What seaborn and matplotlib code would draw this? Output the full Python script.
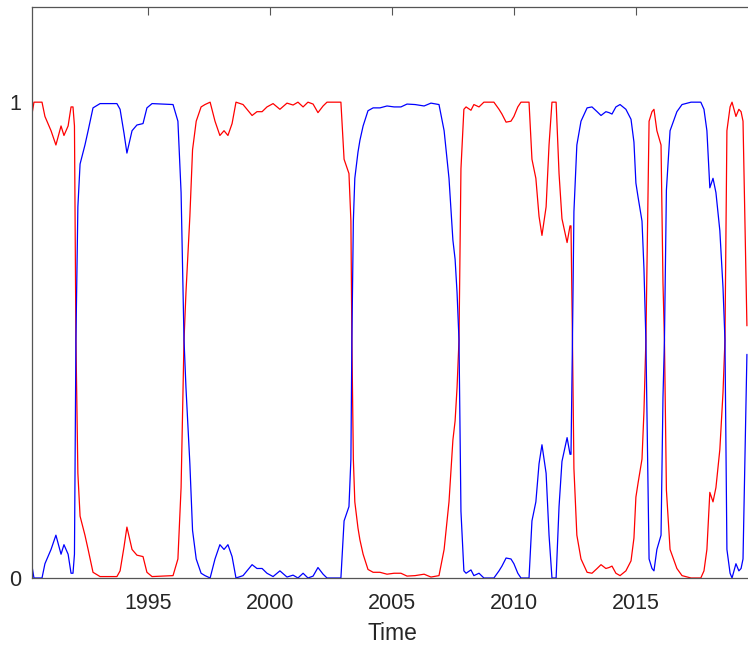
import matplotlib
matplotlib.use("Agg")
import matplotlib.pyplot as plt
import seaborn as sns
import pandas as pd

# Time axis (years) and smoothed regime probabilities
time = [
    1990.25, 1990.33, 1990.66, 1990.78, 1991.03, 1991.23, 1991.44, 1991.56, 1991.73, 1991.85,
    1991.93, 1991.99, 1992.05, 1992.13, 1992.22, 1992.42, 1992.55, 1992.75, 1993.04, 1993.73,
    1993.86, 1994.02, 1994.14, 1994.35, 1994.55, 1994.80, 1994.96, 1995.17, 1996.03, 1996.23,
    1996.36, 1996.48, 1996.56, 1996.72, 1996.83, 1996.98, 1997.18, 1997.34, 1997.55, 1997.75,
    1997.95, 1998.12, 1998.28, 1998.45, 1998.61, 1998.90, 1999.27, 1999.47, 1999.68, 1999.88,
    2000.13, 2000.41, 2000.70, 2000.95, 2001.15, 2001.36, 2001.56, 2001.77, 2001.97, 2002.18,
    2002.34, 2002.91, 2003.04, 2003.24, 2003.32, 2003.36, 2003.42, 2003.48, 2003.61, 2003.69,
    2003.82, 2004.02, 2004.23, 2004.51, 2004.80, 2005.09, 2005.37, 2005.62, 2005.95, 2006.32,
    2006.60, 2006.93, 2007.14, 2007.34, 2007.50, 2007.59, 2007.67, 2007.75, 2007.83, 2007.95,
    2008.04, 2008.24, 2008.36, 2008.57, 2008.77, 2009.18, 2009.39, 2009.51, 2009.68, 2009.88,
    2010.00, 2010.16, 2010.29, 2010.62, 2010.74, 2010.90, 2011.03, 2011.15, 2011.32, 2011.44,
    2011.56, 2011.73, 2011.85, 2011.97, 2012.18, 2012.30, 2012.34, 2012.40, 2012.46, 2012.58,
    2012.75, 2013.00, 2013.20, 2013.41, 2013.57, 2013.77, 2013.90, 2014.02, 2014.18, 2014.35,
    2014.59, 2014.80, 2014.92, 2015.00, 2015.09, 2015.25, 2015.33, 2015.41, 2015.54, 2015.66,
    2015.74, 2015.86, 2016.03, 2016.11, 2016.17, 2016.25, 2016.40, 2016.68, 2016.89, 2017.26,
    2017.66, 2017.79, 2017.91, 2018.03, 2018.16, 2018.28, 2018.44, 2018.57, 2018.65, 2018.73,
    2018.86, 2018.94, 2019.10, 2019.22, 2019.31, 2019.39, 2019.47, 2019.55,
]

regime_red = [
    0.975, 1.0, 1.0, 0.97, 0.94, 0.91, 0.95, 0.93, 0.95, 0.99,
    0.99, 0.95, 0.5, 0.22, 0.13, 0.09, 0.06, 0.012, 0.003, 0.003,
    0.015, 0.065, 0.107, 0.06, 0.048, 0.045, 0.012, 0.003, 0.005, 0.04,
    0.19, 0.5, 0.6, 0.76, 0.9, 0.96, 0.99, 0.995, 1.0, 0.96,
    0.93, 0.94, 0.93, 0.955, 1.0, 0.995, 0.972, 0.98, 0.98, 0.99,
    0.997, 0.985, 0.998, 0.994, 1.0, 0.99, 1.0, 0.996, 0.978, 0.992,
    1.0, 1.0, 0.88, 0.85, 0.75, 0.5, 0.25, 0.16, 0.105, 0.08,
    0.05, 0.018, 0.012, 0.012, 0.008, 0.01, 0.01, 0.004, 0.005, 0.008,
    0.002, 0.005, 0.06, 0.16, 0.29, 0.33, 0.40, 0.5, 0.86, 0.985,
    0.99, 0.983, 0.995, 0.99, 1.0, 1.0, 0.985, 0.975, 0.958, 0.96,
    0.97, 0.99, 1.0, 1.0, 0.88, 0.84, 0.76, 0.72, 0.78, 0.91,
    1.0, 1.0, 0.85, 0.755, 0.705, 0.74, 0.74, 0.5, 0.23, 0.09,
    0.04, 0.012, 0.01, 0.02, 0.028, 0.02, 0.022, 0.025, 0.01, 0.005,
    0.015, 0.036, 0.084, 0.17, 0.2, 0.25, 0.35, 0.5, 0.96, 0.98,
    0.985, 0.94, 0.91, 0.62, 0.5, 0.185, 0.06, 0.02, 0.005, 0.0,
    0.0, 0.015, 0.06, 0.18, 0.16, 0.19, 0.27, 0.39, 0.5, 0.94,
    0.99, 1.0, 0.97, 0.985, 0.98, 0.96, 0.74, 0.53,
]

regime_blue = [
    0.025, 0.0, 0.0, 0.03, 0.06, 0.09, 0.05, 0.07, 0.05, 0.01,
    0.01, 0.05, 0.5, 0.78, 0.87, 0.91, 0.94, 0.988, 0.997, 0.997,
    0.985, 0.935, 0.893, 0.94, 0.952, 0.955, 0.988, 0.997, 0.995, 0.96,
    0.81, 0.5, 0.4, 0.24, 0.1, 0.04, 0.01, 0.005, 0.0, 0.04,
    0.07, 0.06, 0.07, 0.045, 0.0, 0.005, 0.028, 0.02, 0.02, 0.01,
    0.003, 0.015, 0.002, 0.006, 0.0, 0.01, 0.0, 0.004, 0.022, 0.008,
    0.0, 0.0, 0.12, 0.15, 0.25, 0.5, 0.75, 0.84, 0.895, 0.92,
    0.95, 0.982, 0.988, 0.988, 0.992, 0.99, 0.99, 0.996, 0.995, 0.992,
    0.998, 0.995, 0.94, 0.84, 0.71, 0.67, 0.60, 0.5, 0.14, 0.015,
    0.01, 0.017, 0.005, 0.01, 0.0, 0.0, 0.015, 0.025, 0.042, 0.04,
    0.03, 0.01, 0.0, 0.0, 0.12, 0.16, 0.24, 0.28, 0.22, 0.09,
    0.0, 0.0, 0.15, 0.245, 0.295, 0.26, 0.26, 0.5, 0.77, 0.91,
    0.96, 0.988, 0.99, 0.98, 0.972, 0.98, 0.978, 0.975, 0.99, 0.995,
    0.985, 0.964, 0.916, 0.83, 0.8, 0.75, 0.65, 0.5, 0.04, 0.02,
    0.015, 0.06, 0.09, 0.38, 0.5, 0.815, 0.94, 0.98, 0.995, 1.0,
    1.0, 0.985, 0.94, 0.82, 0.84, 0.81, 0.73, 0.61, 0.5, 0.06,
    0.01, 0.0, 0.03, 0.015, 0.02, 0.04, 0.26, 0.47,
]

x_ticks = [1995, 2000, 2005, 2010, 2015]
x_tick_labels = ["1995", "2000", "2005", "2010", "2015"]
y_ticks = [0, 1]
y_tick_labels = ["0", "1"]

sns.set_style("white")
plt.rcParams["font.family"] = ["Liberation Sans", "DejaVu Sans"]

df = pd.DataFrame({"Time": time, "red": regime_red, "blue": regime_blue})
long = df.melt(id_vars="Time", var_name="Regime", value_name="Probability")

fig = plt.figure(figsize=(7.48, 6.5), dpi=100)
ax = fig.add_axes([32 / 748, 1 - 578 / 650, (752 - 32) / 748, (578 - 7) / 650])

sns.lineplot(data=long, x="Time", y="Probability", hue="Regime",
             palette={"red": "#ff0000", "blue": "#0000ff"},
             hue_order=["red", "blue"], linewidth=0.9, legend=False, ax=ax,
             estimator=None, sort=False)

ax.set_xlim(1990.25, 1990.25 + (752 - 32) / 24.4)
ax.set_ylim(0, 1.2)
ax.set_xticks(x_ticks)
ax.set_xticklabels(x_tick_labels)
ax.set_yticks(y_ticks)
ax.set_yticklabels(y_tick_labels)

ax.set_xlabel("Time", fontsize=16.5, color="#262626", labelpad=6)
ax.set_ylabel("")

ax.tick_params(axis="both", direction="in", length=5.5, width=0.8,
               top=True, right=False, color="#555555",
               labelsize=15.5, labelcolor="#262626")
ax.tick_params(axis="x", pad=10.5)
ax.tick_params(axis="y", pad=8)

for sp in ax.spines.values():
    sp.set_color("#555555")
    sp.set_linewidth(0.9)
    sp.set_visible(True)

fig.savefig("out.png", dpi=100)
